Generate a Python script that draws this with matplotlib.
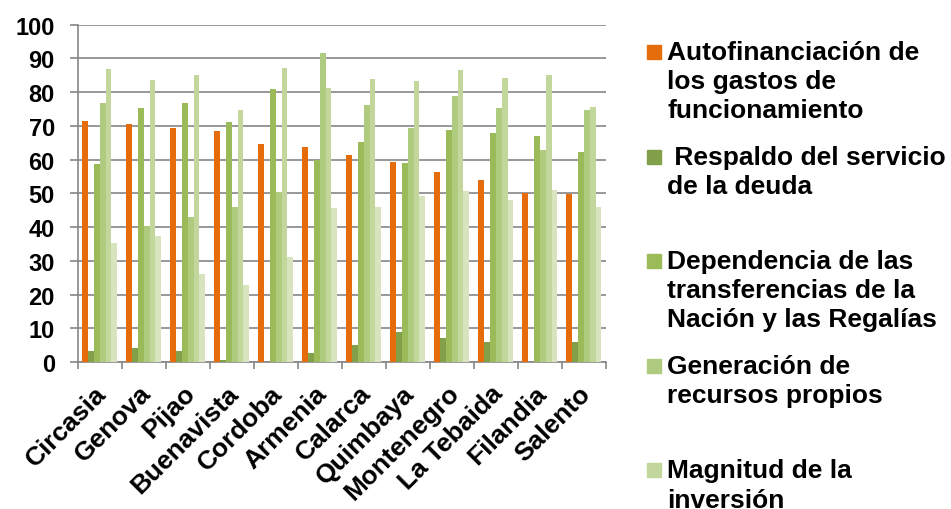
import numpy as np
import matplotlib
matplotlib.use("Agg")
import matplotlib.pyplot as plt
from matplotlib.patches import Rectangle

plt.rcParams['font.family'] = ['Liberation Sans', 'DejaVu Sans']

municipios = ["Circasia", "Genova", "Pijao", "Buenavista", "Cordoba", "Armenia",
              "Calarca", "Quimbaya", "Montenegro", "La Tebaida", "Filandia", "Salento"]

autofinanciacion = [71.5, 70.5, 69.3, 68.5, 64.5, 63.8, 61.4, 59.2, 56.4, 54.0, 50.2, 49.7]
respaldo = [3.2, 4.3, 3.2, 0.7, 0.0, 2.6, 5.0, 9.0, 7.2, 5.9, 0.0, 6.1]
dependencia = [58.7, 75.2, 76.7, 71.3, 80.8, 60.0, 65.3, 58.9, 68.9, 67.8, 67.0, 62.2]
generacion = [76.7, 40.4, 43.1, 46.1, 50.5, 91.5, 76.2, 69.4, 78.9, 75.4, 63.0, 74.6]
magnitud = [86.8, 83.7, 85.2, 74.8, 87.2, 81.1, 83.9, 83.3, 86.6, 84.1, 85.0, 75.6]
ahorro = [35.3, 37.3, 26.1, 22.8, 31.1, 45.8, 46.1, 49.2, 50.6, 48.1, 51.1, 46.1]

series = [autofinanciacion, respaldo, dependencia, generacion, magnitud, ahorro]
colores = ["#E46C0A", "#82A04A", "#9BBB59", "#AFCB7F", "#C3D69B", "#D7E4BD"]
nombres = ["Autofinanciación de\nlos gastos de\nfuncionamiento",
           " Respaldo del servicio\nde la deuda",
           "Dependencia de las\ntransferencias de la\nNación y las Regalías",
           "Generación de\nrecursos propios",
           "Magnitud de la\ninversión"]

fig = plt.figure(figsize=(9.51, 5.10), dpi=100)
ax = fig.add_axes([0.0817, 0.288, 0.5553, 0.6616])

x = np.arange(len(municipios))
w = 1 / 7.5
for i, (vals, c) in enumerate(zip(series, colores)):
    ax.bar(x + (i - 2.5) * w, vals, width=w, color=c, zorder=3, linewidth=0)

ax.set_xlim(-0.5, len(municipios) - 0.5)
ax.set_ylim(0, 100)
ax.set_yticks(np.arange(0, 101, 10))
ax.yaxis.grid(True, color="#868686", linewidth=1.2, zorder=0)
ax.set_axisbelow(True)
for s in ["top", "right"]:
    ax.spines[s].set_visible(False)
for s in ["left", "bottom"]:
    ax.spines[s].set_color("#868686")
    ax.spines[s].set_linewidth(1.2)
ax.tick_params(axis="y", length=5.5, width=1.2, color="#868686", labelsize=17, pad=11)
ax.set_xticks(np.arange(len(municipios) + 1) - 0.5)
ax.set_xticklabels([])
ax.tick_params(axis="x", length=5, width=1.2, color="#868686")
for lab in ax.get_yticklabels():
    lab.set_fontweight("bold")

for i, m in enumerate(municipios):
    ax.text(i - 0.12, -5.5, m, rotation=45, ha="right", va="top", rotation_mode="anchor",
            fontsize=19, fontweight="bold", transform=ax.transData)

# leyenda manual
for k, (nom, c) in enumerate(zip(nombres[:5], colores[:5])):
    ytop = 510 - (41 + k * 104.6)
    fig.patches.append(Rectangle((647 / 951, (ytop - 19) / 510), 14 / 951, 14 / 510,
                                 transform=fig.transFigure, color=c, figure=fig))
    fig.text(667 / 951, ytop / 510, nom, fontsize=19, fontweight="bold",
             va="top", ha="left", linespacing=1.27)

fig.savefig("out.png", dpi=100)
